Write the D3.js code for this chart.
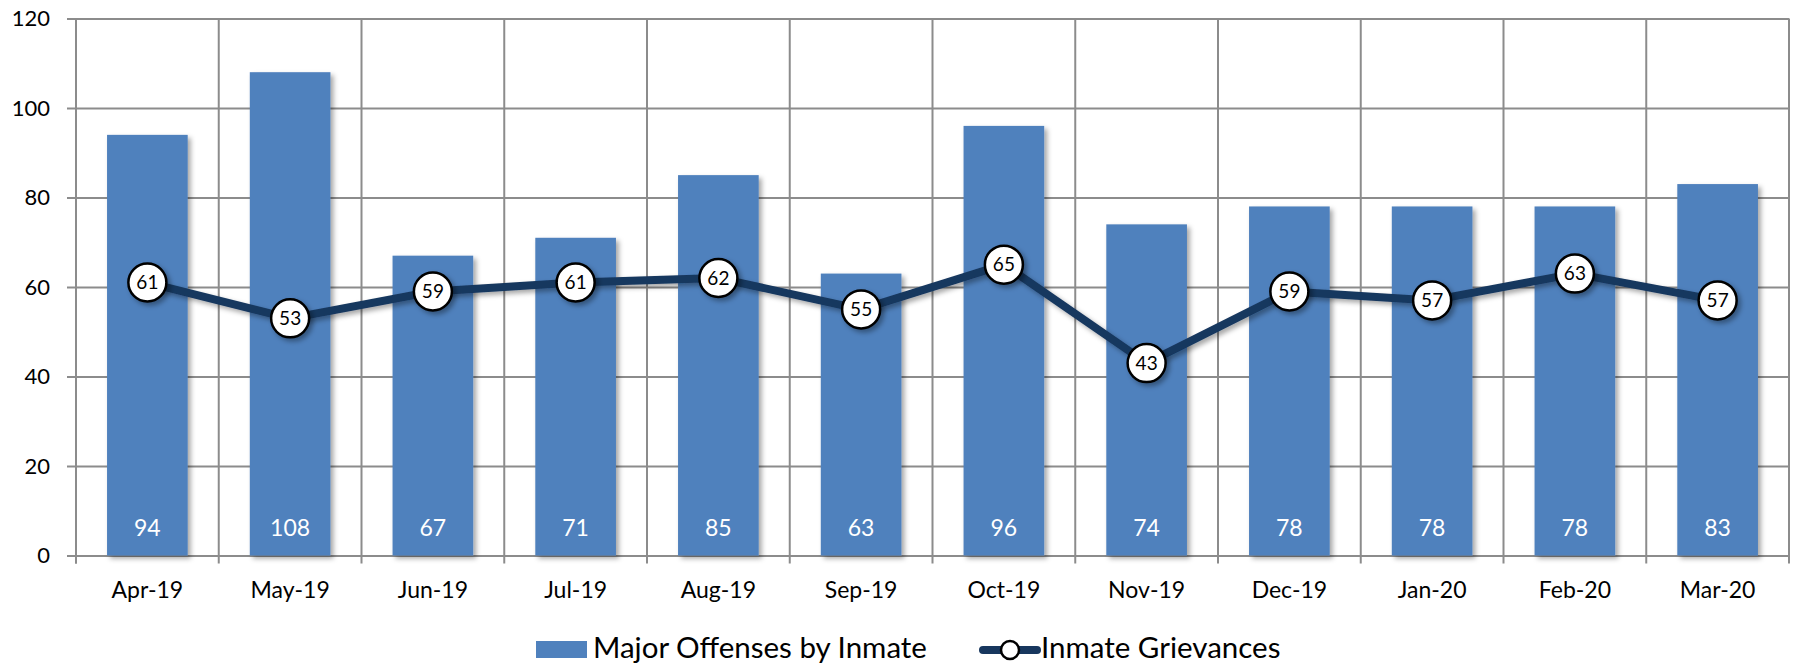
<!DOCTYPE html>
<html>
<head>
<meta charset="utf-8">
<script src="https://cdn.jsdelivr.net/npm/d3@7"></script>
<style>
  html, body { margin: 0; padding: 0; background: #ffffff; }
  svg { display: block; font-family: Lato, "Open Sans", sans-serif; }
</style>
</head>
<body>
<div class="chart"></div>
<script>
// data
const months = ['Apr-19', 'May-19', 'Jun-19', 'Jul-19', 'Aug-19', 'Sep-19',
                'Oct-19', 'Nov-19', 'Dec-19', 'Jan-20', 'Feb-20', 'Mar-20'];
const majorOffenses = [94, 108, 67, 71, 85, 63, 96, 74, 78, 78, 78, 83];
const grievances = [61, 53, 59, 61, 62, 55, 65, 43, 59, 57, 63, 57];
const yTicks = [0, 20, 40, 60, 80, 100, 120];
const seriesNames = ['Major Offenses by Inmate', 'Inmate Grievances'];

// dimensions
const width = 1799;
const height = 663;
const margin = { top: 18.5, right: 10, bottom: 107.5, left: 76 };
const innerWidth = 1789 - margin.left;
const innerHeight = height - margin.top - margin.bottom;

// colors
const barColor = '#4F81BD';
const lineColor = '#17375E';
const gridColor = '#8c8c8c';

const svg = d3.select('.chart')
  .append('svg')
    .attr('width', width)
    .attr('height', height);

// shadow filter
const defs = svg.append('defs');
const shadow = defs.append('filter')
    .attr('id', 'shadow')
    .attr('x', '-20%').attr('y', '-20%')
    .attr('width', '150%').attr('height', '150%');
shadow.append('feDropShadow')
    .attr('dx', 3).attr('dy', 3)
    .attr('stdDeviation', 2.5)
    .attr('flood-color', '#000')
    .attr('flood-opacity', 0.35);

const inner = svg.append('g')
    .attr('transform', `translate(${margin.left}, ${margin.top})`);

// scales
const xScale = d3.scaleBand()
    .domain(months)
    .range([0, innerWidth])
    .paddingInner(0.435)
    .paddingOuter(0.2175);
const step = innerWidth / months.length;

const yScale = d3.scaleLinear()
    .domain([0, 120])
    .range([innerHeight, 0]);

// horizontal gridlines + y ticks
const leftAxis = d3.axisLeft(yScale)
    .tickValues(yTicks)
    .tickSize(-innerWidth - 9)
    .tickPadding(17);
inner.append('g')
    .attr('class', 'y-axis')
    .attr('transform', 'translate(-9, 0)')
    .call(leftAxis)
    .call(g => g.select('.domain').remove())
    .call(g => g.selectAll('.tick line')
        .attr('stroke', gridColor).attr('stroke-width', 2))
    .call(g => g.selectAll('.tick text')
        .attr('fill', '#000')
        .attr('font-size', 22)
        .attr('font-family', 'Lato, sans-serif'));

// vertical gridlines at category boundaries
const boundaries = d3.range(months.length + 1).map(i => i * step);
inner.append('g')
  .selectAll('line')
  .data(boundaries)
  .join('line')
    .attr('x1', d => d)
    .attr('x2', d => d)
    .attr('y1', 0)
    .attr('y2', innerHeight + 8)
    .attr('stroke', gridColor)
    .attr('stroke-width', 2);

// bars
inner.append('g')
  .selectAll('rect')
  .data(majorOffenses)
  .join('rect')
    .attr('x', (d, i) => xScale(months[i]))
    .attr('y', d => yScale(d))
    .attr('width', xScale.bandwidth())
    .attr('height', d => innerHeight - yScale(d))
    .attr('fill', barColor)
    .attr('filter', 'url(#shadow)');

// bar value labels
inner.append('g')
  .selectAll('text')
  .data(majorOffenses)
  .join('text')
    .text(d => d)
    .attr('x', (d, i) => xScale(months[i]) + xScale.bandwidth() / 2)
    .attr('y', innerHeight - 20)
    .attr('text-anchor', 'middle')
    .attr('fill', '#fff')
    .attr('font-size', 23);

// grievances line
const center = (d, i) => xScale(months[i]) + xScale.bandwidth() / 2;
const lineGen = d3.line()
    .x(center)
    .y(d => yScale(d));
inner.append('path')
    .datum(grievances)
    .attr('d', lineGen)
    .attr('fill', 'none')
    .attr('stroke', lineColor)
    .attr('stroke-width', 8)
    .attr('stroke-linejoin', 'round')
    .attr('filter', 'url(#shadow)');

// markers
const markers = inner.append('g')
  .selectAll('g')
  .data(grievances)
  .join('g')
    .attr('transform', (d, i) => `translate(${center(d, i)}, ${yScale(d)})`);
markers.append('circle')
    .attr('r', 19)
    .attr('fill', '#fff')
    .attr('stroke', '#000')
    .attr('stroke-width', 2.5)
    .attr('filter', 'url(#shadow)');
markers.append('text')
    .text(d => d)
    .attr('text-anchor', 'middle')
    .attr('dy', '0.35em')
    .attr('fill', '#000')
    .attr('font-size', 19);

// x axis labels
inner.append('g')
  .selectAll('text')
  .data(months)
  .join('text')
    .text(d => d)
    .attr('x', d => xScale(d) + xScale.bandwidth() / 2)
    .attr('y', innerHeight + 42)
    .attr('text-anchor', 'middle')
    .attr('fill', '#000')
    .attr('font-size', 23);

// left axis line
inner.append('line')
    .attr('x1', 0).attr('x2', 0)
    .attr('y1', 0).attr('y2', innerHeight + 8)
    .attr('stroke', gridColor)
    .attr('stroke-width', 2);

// legend
const legend = svg.append('g');
legend.append('rect')
    .attr('x', 536).attr('y', 641)
    .attr('width', 51).attr('height', 17)
    .attr('fill', barColor);
legend.append('text')
    .text(seriesNames[0])
    .attr('x', 593).attr('y', 658)
    .attr('font-size', 29.5)
    .attr('fill', '#000');
legend.append('line')
    .attr('x1', 983).attr('x2', 1037)
    .attr('y1', 650).attr('y2', 650)
    .attr('stroke', lineColor)
    .attr('stroke-width', 8)
    .attr('stroke-linecap', 'round');
legend.append('circle')
    .attr('cx', 1010).attr('cy', 650)
    .attr('r', 9)
    .attr('fill', '#fff')
    .attr('stroke', '#000')
    .attr('stroke-width', 2.5);
legend.append('text')
    .text(seriesNames[1])
    .attr('x', 1041).attr('y', 658)
    .attr('font-size', 29.5)
    .attr('fill', '#000');
</script>
</body>
</html>
